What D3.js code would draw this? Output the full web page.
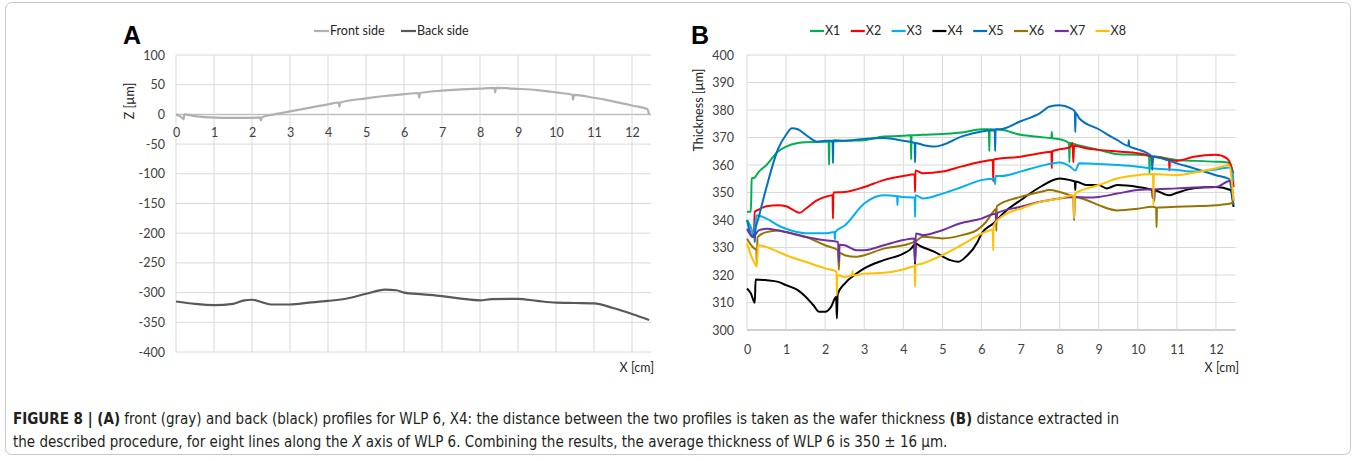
<!DOCTYPE html>
<html>
<head>
<meta charset="utf-8">
<script src="https://cdn.jsdelivr.net/npm/d3@7"></script>
<style>
    body { margin: 0; background: #fff; }
    .tick text { font-family: Lato, 'Open Sans', sans-serif; font-size: 12.5px; fill: #404040; }
    .lbl { font-family: Lato, 'Open Sans', sans-serif; font-size: 12.5px; fill: #262626; }
    .panel { font-family: 'Liberation Sans', Arial, sans-serif; font-size: 25px; font-weight: bold; }
    .cap { font-family: 'Liberation Sans Narrow', 'DejaVu Sans Condensed', sans-serif; font-size: 15px; fill: #231f20; }
</style>
</head>
<body>
<div id="chart"></div>
<script>
// ---- data ----
const xTicksA = d3.range(0, 13);
const yTicksA = [100, 50, 0, -50, -100, -150, -200, -250, -300, -350, -400];

const frontSide = [[0,0],[0.1,-3],[0.18,-7],[0.2,-8],[0.22,0],[0.5,-3],[1,-5.5],[1.5,-6],[2,-6],[2.2,-5],[2.24,-10],[2.26,-5],
    [2.5,-1],[3,5],[3.5,11],[4,17],[4.28,20],[4.3,13],[4.32,20],[5,27],[5.5,31],[6,34],[6.38,36],[6.4,28],[6.42,36],
    [7,40],[7.5,42],[8,43.5],[8.38,44.5],[8.4,37],[8.42,44.5],[9,43],[9.5,41],[10,37],[10.43,33],[10.45,25],[10.47,33],
    [11,28],[11.5,22],[12,15],[12.4,9],[12.45,0]];

const backSide = [[0,-315],[0.5,-319],[1,-321],[1.5,-319],[1.8,-313],[2,-312],[2.2,-315],[2.5,-320],[3,-320],[3.5,-317],
    [4,-314],[4.5,-310],[5,-302],[5.5,-295],[5.8,-296],[6,-300],[6.5,-303],[7,-306],[7.5,-310],[8,-313],[8.3,-311],
    [9,-310.5],[9.5,-314],[10,-317],[10.5,-317.5],[11,-318],[11.5,-326],[12,-336],[12.45,-346]];

const xTicksB = d3.range(0, 13);
const yTicksB = d3.range(300, 401, 10);
const seriesNames = ['X1', 'X2', 'X3', 'X4', 'X5', 'X6', 'X7', 'X8'];
const seriesColors = ['#00b050', '#ff0000', '#00b0f0', '#000000', '#0070c0', '#997300', '#7030a0', '#ffc000'];

const x1 = [[0,343],[0.1,343],[0.12,355],[0.2,355.5],[0.3,357.5],[0.5,360],[0.8,365],[1,366.7],[1.3,368],[1.5,368.3],[2,368.5],
    [2.09,368.5],[2.1,360],[2.11,368.5],[2.5,368.8],[3,369],[3.5,370.4],[4,370.6],[4.19,370.8],[4.2,362],[4.21,370.8],[4.5,371],
    [5,371.3],[5.5,371.8],[6,373],[6.19,373],[6.2,365],[6.21,373],[6.5,372.8],[7,371],[7.5,370.2],[7.79,369.8],[7.8,372],[7.81,369.7],
    [8,369.4],[8.24,368],[8.25,361],[8.26,368],[8.45,367.3],[9,365.5],[9.5,363.9],[10,363.7],[10.29,363.4],[10.3,357],[10.31,363.3],
    [11,361.8],[11.5,361.5],[12,361.2],[12.3,360.9],[12.4,359],[12.45,357]];
const x2 = [[0.18,335],[0.2,343],[0.3,343.8],[0.5,345],[0.8,345.4],[1,345],[1.2,343.5],[1.35,342.6],[1.5,344.1],[1.8,347.2],[2,348.4],
    [2.19,349],[2.2,340.5],[2.21,350],[2.5,350.2],[3,352],[3.5,354.5],[4,356],[4.29,356.6],[4.3,350.2],[4.31,358],[4.5,357],[5,357.6],
    [5.5,359.5],[6,361.2],[6.29,361.8],[6.3,354],[6.31,362],[7,363],[7.5,364.3],[7.79,364.8],[7.8,358.8],[7.81,365],[8,365.7],
    [8.27,366.5],[8.33,368],[8.35,361],[8.37,367],[8.7,366],[9,365.5],[9.5,364.9],[10,364.3],[10.35,363],[10.37,360],[10.39,363],
    [10.8,361.8],[10.81,358],[10.82,361.8],[11,361.5],[11.43,363],[12,363.7],[12.28,362.4],[12.4,359],[12.45,352]];
const x3 = [[0,340],[0.1,337.4],[0.18,334],[0.2,337],[0.25,341.7],[0.5,340.5],[0.8,338],[1,336.8],[1.5,335.2],[2,335.2],[2.24,335.6],
    [2.25,333],[2.26,335.6],[2.5,338],[3,346],[3.5,349],[3.84,348.6],[3.85,345.4],[3.86,348.6],[4,348.4],[4.29,348.2],[4.3,341],
    [4.31,349],[4.5,347.8],[5,349.6],[5.5,352],[6,354.5],[6.34,355],[6.35,353],[6.36,356],[6.5,356],[7,357.6],[7.5,359.6],[8,360.9],
    [8.27,359.4],[8.4,358],[8.5,360.6],[9,360.4],[9.5,360],[10,359.4],[10.33,358.8],[11,358.2],[11.43,357.6],[12,358.4],[12.37,359.1],
    [12.45,354]];
const x4 = [[0,315.1],[0.1,313.3],[0.2,309.9],[0.22,318.4],[0.5,318.1],[0.8,317.5],[1,316.3],[1.3,314.5],[1.5,312.1],[1.7,309],
    [1.85,306.6],[2,306.6],[2.15,308.4],[2.28,312],[2.3,304.2],[2.32,313],[2.5,316.9],[2.8,320.5],[3,322.4],[3.5,325.4],[4,327.8],
    [4.2,329.6],[4.28,331],[4.3,324],[4.32,331.5],[4.4,330.8],[4.8,328.4],[5.2,325.4],[5.4,324.8],[5.6,326.6],[5.9,332],[6,335],
    [6.3,338.7],[6.64,343.5],[7,347.2],[7.5,352],[8,355.1],[8.27,354.5],[8.39,354],[8.4,350.9],[8.41,354],[8.7,352.7],[9,352.7],
    [9.2,351.5],[9.47,352.7],[10,352],[10.37,350.9],[10.38,348],[10.39,350.9],[10.8,349],[11,349.9],[11.43,351.5],[12,352],
    [12.37,350.9],[12.45,344.8]];
const x5 = [[0,340],[0.15,333.8],[0.19,335],[0.2,332],[0.21,336],[0.3,341],[0.5,352],[0.8,366],[1,371],[1.15,373.4],[1.3,373],
    [1.5,371],[1.8,368.5],[2,368.8],[2.19,368.8],[2.2,360.6],[2.21,369],[2.5,368.8],[3,369.5],[3.5,369.8],[4,368.8],[4.29,368],
    [4.3,360.9],[4.31,368],[4.5,367.3],[4.8,366.7],[5,367.3],[5.5,370.4],[6,372.2],[6.34,372.6],[6.35,365],[6.36,373],[6.47,373],
    [7,375.9],[7.5,378.9],[7.75,381.3],[8,381.7],[8.27,380.7],[8.39,379.5],[8.4,372],[8.41,379],[8.5,377],[9,373],[9.47,369.1],
    [9.76,367],[9.77,369],[9.78,366.8],[10,365.7],[10.24,364.3],[10.36,363],[10.37,358.2],[10.38,363],[10.6,362.4],[11,360.6],
    [11.43,358.8],[12,356.3],[12.33,355],[12.45,345.4]];
const x6 = [[0,333.2],[0.15,330.1],[0.24,329],[0.25,324.2],[0.27,333.8],[0.5,335.6],[0.8,336.2],[1,335.6],[1.5,333.9],[2,330.8],
    [2.33,329],[2.35,321.8],[2.37,328],[2.5,327.2],[2.8,326.6],[3,327.2],[3.5,329.6],[4,330.8],[4.3,332.1],[4.5,333.9],[5,333.3],
    [5.5,334.5],[5.9,336.5],[6.1,339],[6.3,343],[6.37,344],[6.38,336],[6.39,345],[7,348.4],[7.5,350.2],[7.75,350.9],[8,350.2],
    [8.27,349],[8.7,347.2],[9,345.4],[9.47,343.5],[10,344.1],[10.37,344.8],[10.47,344.5],[10.48,337.4],[10.49,344.5],[11,344.8],
    [11.43,345],[12,345.4],[12.37,346],[12.45,346.5]];
const x7 = [[0,336.8],[0.15,333.8],[0.3,336.2],[0.5,336.8],[0.8,336.2],[1,335.6],[1.5,333.8],[2,332.6],[2.33,332],[2.35,324.8],
    [2.37,331],[2.5,330.8],[2.8,329],[3,329],[3.5,330.8],[4,332.7],[4.28,333.3],[4.3,324.8],[4.32,335.1],[4.5,334.5],[5,336.3],
    [5.44,338.7],[6,340.5],[6.36,342.3],[6.38,339],[6.4,342.5],[7,344.8],[7.5,346.6],[8,347.8],[8.35,348.4],[8.37,339.9],[8.39,348.4],
    [8.7,348.2],[9,348.4],[9.47,349.6],[10,350.9],[10.4,351.2],[10.42,347],[10.44,351.2],[11,351.5],[11.43,351.8],[12,352],
    [12.37,354.3],[12.45,347]];
const x8 = [[0,331.5],[0.1,327.2],[0.2,324.2],[0.25,323],[0.28,330.8],[0.5,330.2],[0.8,328.4],[1,327.2],[1.5,324.8],[2,322.4],
    [2.29,321.2],[2.3,312.7],[2.31,320],[2.5,319.3],[2.69,319.9],[2.7,321.5],[2.71,319.9],[3,320.5],[3.5,320.8],[4,322],[4.29,323.2],
    [4.3,315.7],[4.31,323.5],[4.5,324.2],[5,327.2],[5.5,331],[6,335],[6.29,336.5],[6.3,328.9],[6.31,338],[6.64,342.3],[7,344.1],
    [7.5,346.6],[8,347.8],[8.35,349],[8.37,340.5],[8.39,349.5],[8.7,351.5],[9,352.7],[9.47,355.1],[10,356.3],[10.39,356.7],
    [10.4,345.4],[10.41,356.7],[11,356.3],[11.43,357.2],[12,358.8],[12.33,360],[12.45,347]];
const seriesValues = [x1, x2, x3, x4, x5, x6, x7, x8];

const captionLine1 = [
    {t: 'FIGURE 8 | (A)', b: true}, {t: ' front (gray) and back (black) profiles for WLP 6, X4: the distance between the two profiles is taken as the wafer thickness '},
    {t: '(B)', b: true}, {t: ' distance extracted in'}];
const captionLine2 = [
    {t: 'the described procedure, for eight lines along the '}, {t: 'X', i: true}, {t: ' axis of WLP 6. Combining the results, the average thickness of WLP 6 is 350 \u00b1 16 \u00b5m.'}];

// ---- layout ----
const W = 1356, H = 461;
const gridColor = '#d9d9d9';
const plainNum = d => String(d);

const svg = d3.select('#chart').append('svg')
    .attr('width', W)
    .attr('height', H);

svg.append('rect')
    .attr('x', 5.5).attr('y', 2.5)
    .attr('width', W - 11).attr('height', 452)
    .attr('rx', 6)
    .attr('fill', 'none')
    .attr('stroke', '#c8c8c8');

// ================= Panel A =================
const xA = d3.scaleLinear().domain([0, 12.5]).range([176, 651]);
const yA = d3.scaleLinear().domain([-400, 100]).range([352, 55]);

const gA = svg.append('g');

gA.append('g')
    .selectAll('line')
    .data(yTicksA)
  .enter().append('line')
    .attr('x1', xA(0)).attr('x2', xA(12.5))
    .attr('y1', d => yA(d)).attr('y2', d => yA(d))
    .attr('stroke', d => d === 0 ? '#bfbfbf' : gridColor)
    .attr('stroke-width', d => d === 0 ? 1.5 : 1);

gA.append('g')
    .selectAll('line')
    .data(xTicksA)
  .enter().append('line')
    .attr('x1', d => xA(d)).attr('x2', d => xA(d))
    .attr('y1', yA(100)).attr('y2', yA(-400))
    .attr('stroke', gridColor);

gA.append('g')
    .attr('transform', `translate(${xA(0) - 11},0)`)
    .call(d3.axisLeft(yA).tickValues(yTicksA).tickFormat(plainNum).tickSize(0).tickPadding(0))
    .call(g => g.select('.domain').remove());

gA.append('g')
    .attr('transform', `translate(0,${yA(0) + 8})`)
    .call(d3.axisBottom(xA).tickValues(xTicksA).tickSize(0).tickPadding(6))
    .call(g => g.select('.domain').remove());

const lineA = d3.line()
    .x(d => xA(d[0]))
    .y(d => yA(d[1]))
    .curve(d3.curveMonotoneX);

gA.append('path')
    .datum(frontSide)
    .attr('d', lineA)
    .attr('fill', 'none')
    .attr('stroke', '#b0b0b0')
    .attr('stroke-width', 2.2);

gA.append('path')
    .datum(backSide)
    .attr('d', lineA)
    .attr('fill', 'none')
    .attr('stroke', '#595959')
    .attr('stroke-width', 2.2);

gA.append('text')
    .attr('class', 'lbl')
    .attr('transform', `translate(134,101) rotate(-90)`)
    .attr('text-anchor', 'middle')
    .text('Z [\u00b5m]');

gA.append('text')
    .attr('class', 'lbl')
    .attr('x', 654).attr('y', 372)
    .attr('text-anchor', 'end')
    .text('X [cm]');

gA.append('text')
    .attr('class', 'panel')
    .attr('x', 123).attr('y', 44)
    .text('A');

const legendA = [{name: 'Front side', color: '#b0b0b0', x: 314}, {name: 'Back side', color: '#595959', x: 401}];
const legA = gA.selectAll('.legA')
    .data(legendA)
  .enter().append('g')
    .attr('transform', d => `translate(${d.x},31)`);
legA.append('line')
    .attr('x1', 0).attr('x2', 15)
    .attr('stroke', d => d.color)
    .attr('stroke-width', 2.2);
legA.append('text')
    .attr('class', 'lbl')
    .attr('x', 16).attr('dy', '0.35em')
    .text(d => d.name);

// ================= Panel B =================
const xB = d3.scaleLinear().domain([0, 12.5]).range([747, 1235.5]);
const yB = d3.scaleLinear().domain([300, 400]).range([330, 55]);

const gB = svg.append('g');

gB.append('g')
    .selectAll('line')
    .data(yTicksB)
  .enter().append('line')
    .attr('x1', xB(0)).attr('x2', xB(12.5))
    .attr('y1', d => yB(d)).attr('y2', d => yB(d))
    .attr('stroke', d => d === 300 ? '#bfbfbf' : gridColor)
    .attr('stroke-width', d => d === 300 ? 1.5 : 1);

gB.append('g')
    .selectAll('line')
    .data(xTicksB)
  .enter().append('line')
    .attr('x1', d => xB(d)).attr('x2', d => xB(d))
    .attr('y1', yB(400)).attr('y2', yB(300))
    .attr('stroke', gridColor);

gB.append('g')
    .attr('transform', `translate(${xB(0) - 13},0)`)
    .call(d3.axisLeft(yB).tickValues(yTicksB).tickFormat(plainNum).tickSize(0).tickPadding(0))
    .call(g => g.select('.domain').remove());

gB.append('g')
    .attr('transform', `translate(0,${yB(300) + 9})`)
    .call(d3.axisBottom(xB).tickValues(xTicksB).tickSize(0).tickPadding(6))
    .call(g => g.select('.domain').remove());

const lineB = d3.line()
    .x(d => xB(d[0]))
    .y(d => yB(d[1]))
    .curve(d3.curveMonotoneX);

gB.selectAll('.series')
    .data(seriesValues)
  .enter().append('path')
    .attr('class', 'series')
    .attr('d', lineB)
    .attr('fill', 'none')
    .attr('stroke', (d, i) => seriesColors[i])
    .attr('stroke-width', 2)
    .attr('stroke-linejoin', 'round');

gB.append('text')
    .attr('class', 'lbl')
    .attr('transform', `translate(703,110) rotate(-90)`)
    .attr('text-anchor', 'middle')
    .text('Thickness [\u00b5m]');

gB.append('text')
    .attr('class', 'lbl')
    .attr('x', 1239).attr('y', 372)
    .attr('text-anchor', 'end')
    .text('X [cm]');

gB.append('text')
    .attr('class', 'panel')
    .attr('x', 691).attr('y', 44)
    .text('B');

const legB = gB.selectAll('.legB')
    .data(seriesNames)
  .enter().append('g')
    .attr('transform', (d, i) => `translate(${810 + i * 40.8},31)`);
legB.append('line')
    .attr('x1', 0).attr('x2', 14)
    .attr('stroke', (d, i) => seriesColors[i])
    .attr('stroke-width', 2.2);
legB.append('text')
    .attr('class', 'lbl')
    .attr('x', 15).attr('dy', '0.35em')
    .text(d => d);

// ================= caption =================
function caption(parts, y) {
    const t = svg.append('text')
        .attr('class', 'cap')
        .attr('x', 13).attr('y', y);
    t.selectAll('tspan')
        .data(parts)
      .enter().append('tspan')
        .attr('font-weight', d => d.b ? 'bold' : null)
        .attr('font-style', d => d.i ? 'italic' : null)
        .text(d => d.t);
}
caption(captionLine1, 424);
caption(captionLine2, 447);
</script>
</body>
</html>
